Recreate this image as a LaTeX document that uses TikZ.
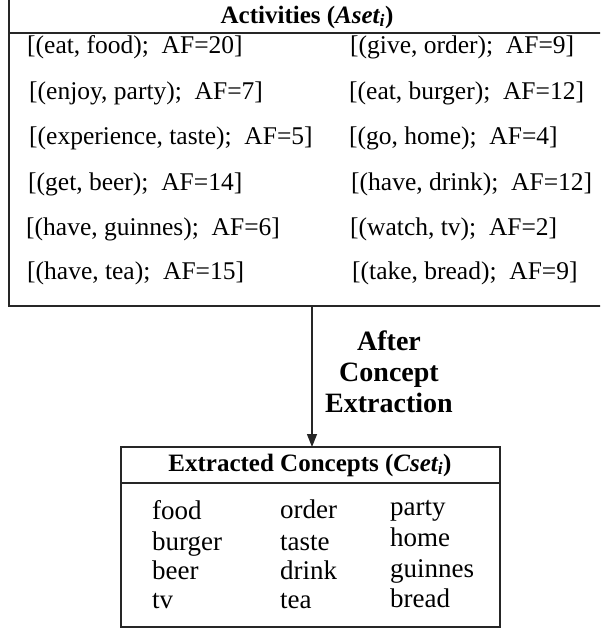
\documentclass[tikz,border=0pt]{standalone}
\usepackage{fontspec}
\setmainfont{Liberation Serif}
\usetikzlibrary{arrows.meta}
\begin{document}
\begin{tikzpicture}[x=1pt,y=-1pt,
  box/.style={draw=black!85, line width=1.4pt},
  row/.style={anchor=west, inner sep=0pt, font=\fontsize{25.5}{28}\selectfont},
  cpt/.style={anchor=base west, inner sep=0pt, font=\fontsize{27}{30}\selectfont},
  hdr/.style={inner sep=0pt, font=\bfseries\fontsize{25}{28}\selectfont},
  lbl/.style={inner sep=0pt, anchor=base, font=\bfseries\fontsize{28}{30}\selectfont}]
\useasboundingbox (0,0) rectangle (600,631);
\begin{scope}
\clip (0,0) rectangle (600,631);
% top box
\draw[box] (9,-5) rectangle (605,306);
\draw[box] (9,33) -- (605,33);
\end{scope}
\node[hdr] (t1) at (307,17) {Activities (\textit{Aset\textsubscript{i}})};
\node[row] (l1) at (27,47) {[(eat, food);\ \ AF=20]};
\node[row] (l2) at (29,93) {[(enjoy, party);\ \ AF=7]};
\node[row] (l3) at (29,138) {[(experience, taste);\ \ AF=5]};
\node[row] (l4) at (28,184) {[(get, beer);\ \ AF=14]};
\node[row] (l5) at (26,229) {[(have, guinnes);\ \ AF=6]};
\node[row] (l6) at (27,273) {[(have, tea);\ \ AF=15]};
\node[row] (r1) at (350,47) {[(give, order);\ \ AF=9]};
\node[row] (r2) at (349,93) {[(eat, burger);\ \ AF=12]};
\node[row] (r3) at (349,138) {[(go, home);\ \ AF=4]};
\node[row] (r4) at (351,184) {[(have, drink);\ \ AF=12]};
\node[row] (r5) at (350,229) {[(watch, tv);\ \ AF=2]};
\node[row] (r6) at (352,273) {[(take, bread);\ \ AF=9]};
% bottom box
\draw[box] (121,447) rectangle (500,627);
\draw[box] (121,483) -- (500,483);
\coordinate (top) at (312,306);
\coordinate (bot) at (312,447);
\draw[line width=1.4pt, draw=black!85, -{Triangle[length=13pt,width=10pt]}] (top) -- (bot);
\node[lbl] (lab1) at (389,350) {After};
\node[lbl] (lab2) at (389,381) {Concept};
\node[lbl] (lab3) at (389,412) {Extraction};
\node[hdr] (t2) at (310,465) {Extracted Concepts (\textit{Cset\textsubscript{i}})};
\node[cpt] (c11) at (152,519) {food};
\node[cpt] (c12) at (152,550) {burger};
\node[cpt] (c13) at (152,579) {beer};
\node[cpt] (c14) at (152,608) {tv};
\node[cpt] (c21) at (280,518) {order};
\node[cpt] (c22) at (280,550) {taste};
\node[cpt] (c23) at (280,579) {drink};
\node[cpt] (c24) at (280,608) {tea};
\node[cpt] (c31) at (390,515) {party};
\node[cpt] (c32) at (390,546) {home};
\node[cpt] (c33) at (390,577) {guinnes};
\node[cpt] (c34) at (390,607) {bread};
\end{tikzpicture}
\end{document}
